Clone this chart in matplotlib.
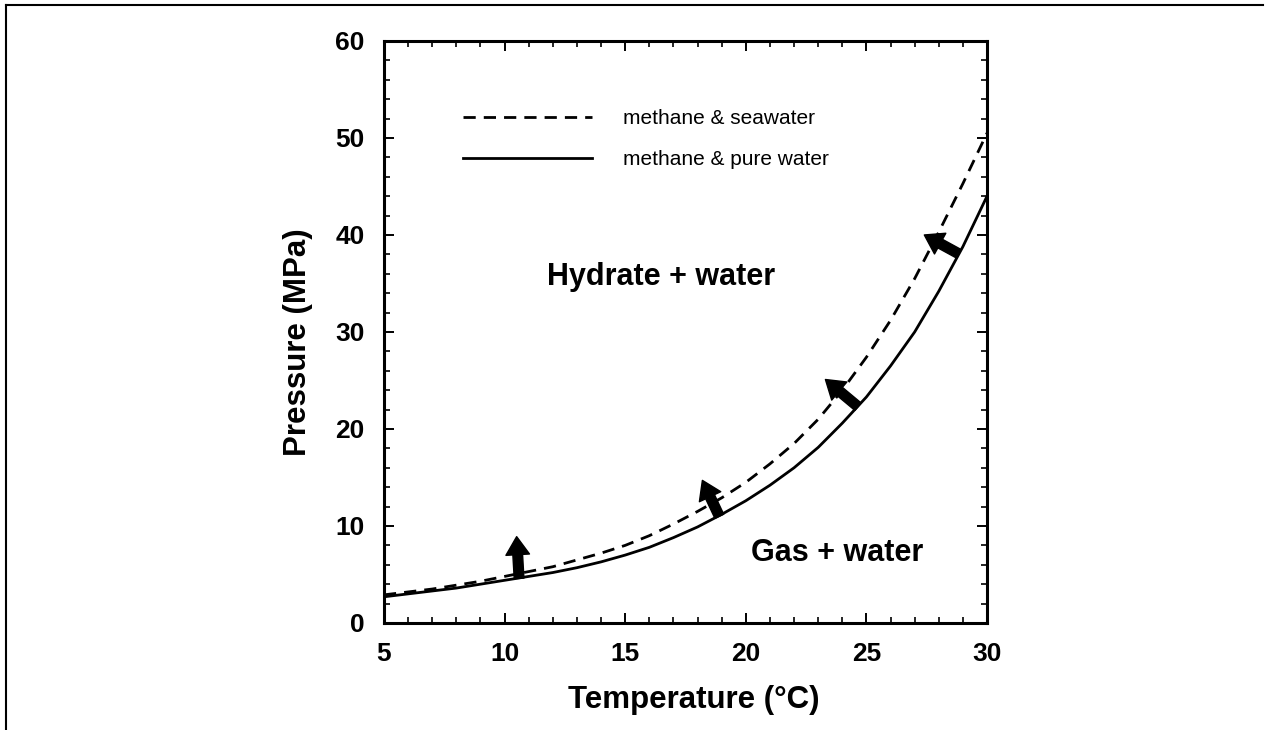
import matplotlib
matplotlib.use("Agg")
import matplotlib.pyplot as plt
from matplotlib.lines import Line2D
from matplotlib.ticker import MultipleLocator

plt.rcParams['font.family'] = ['Liberation Sans', 'DejaVu Sans']

# equilibrium curves (temperature in degC, pressure in MPa)
temp = [5, 6, 7, 8, 9, 10, 11, 12, 13, 14, 15, 16, 17, 18, 19, 20,
        21, 22, 23, 24, 25, 26, 27, 28, 29, 30]
p_pure = [2.7, 3.0, 3.3, 3.6, 4.0, 4.4, 4.8, 5.2, 5.7, 6.3, 7.0, 7.8, 8.8,
          9.9, 11.2, 12.6, 14.2, 16.0, 18.1, 20.6, 23.3, 26.5, 30.0, 34.2,
          38.8, 44.0]
p_sea = [2.9, 3.2, 3.5, 3.9, 4.3, 4.8, 5.3, 5.8, 6.5, 7.2, 8.0, 9.0, 10.2,
         11.5, 12.9, 14.5, 16.4, 18.5, 21.0, 24.0, 27.4, 31.2, 35.5, 40.3,
         45.3, 50.5]

# shift arrows: from pure-water curve towards the seawater curve
arrow_tail = [(10.6, 4.6), (18.9, 11.0), (24.65, 22.3), (28.8, 38.1)]
arrow_head = [(10.5, 8.9), (18.2, 14.7), (23.3, 25.1), (27.4, 40.0)]

fig = plt.figure(figsize=(12.69, 7.30), dpi=100)
ax = fig.add_axes([0.3026, 0.1466, 0.4752, 0.7973])

ax.plot(temp, p_sea, color='black', lw=2.0, linestyle=(0, (4.4, 2.9)),
        label='methane & seawater')
ax.plot(temp, p_pure, color='black', lw=2.0, label='methane & pure water')

for (x0, y0), (x1, y1) in zip(arrow_tail, arrow_head):
    ax.annotate('', xy=(x1, y1), xytext=(x0, y0),
                arrowprops=dict(facecolor='black', edgecolor='black',
                                width=7, headwidth=17, headlength=13,
                                shrink=0))

ax.text(16.5, 35.7, 'Hydrate + water', fontsize=22, fontweight='bold',
        ha='center', va='center')
ax.text(23.8, 7.2, 'Gas + water', fontsize=22, fontweight='bold',
        ha='center', va='center')

ax.set_xlim(5, 30)
ax.set_ylim(0, 60)
ax.xaxis.set_major_locator(MultipleLocator(5))
ax.xaxis.set_minor_locator(MultipleLocator(1))
ax.yaxis.set_major_locator(MultipleLocator(10))
ax.yaxis.set_minor_locator(MultipleLocator(2))
ax.tick_params(which='both', direction='in', top=True, right=True)
ax.tick_params(which='major', length=7, width=1.4, pad=14, labelsize=19)
ax.tick_params(which='minor', length=4.5, width=1.2)
for lab in ax.get_xticklabels() + ax.get_yticklabels():
    lab.set_fontweight('bold')
for sp in ax.spines.values():
    sp.set_linewidth(2.2)

ax.set_xlabel('Temperature (°C)', fontsize=22.5, fontweight='bold')
ax.set_ylabel('Pressure (MPa)', fontsize=22.5, fontweight='bold')
ax.xaxis.set_label_coords(0.514, -0.107)
ax.yaxis.set_label_coords(-0.117, 0.483)

ax.legend(loc='upper left', bbox_to_anchor=(0.131, 0.883), frameon=False,
          fontsize=15, handlelength=6.2, handletextpad=1.5,
          labelspacing=1.05, borderpad=0, borderaxespad=0)

# page frame lines
fig.add_artist(Line2D([6 / 1269, 1263 / 1269], [1 - 5 / 730, 1 - 5 / 730],
                      color='black', lw=1.5))
fig.add_artist(Line2D([6 / 1269, 6 / 1269], [0, 1 - 5 / 730],
                      color='black', lw=1.5))

fig.savefig('out.png', dpi=100)
